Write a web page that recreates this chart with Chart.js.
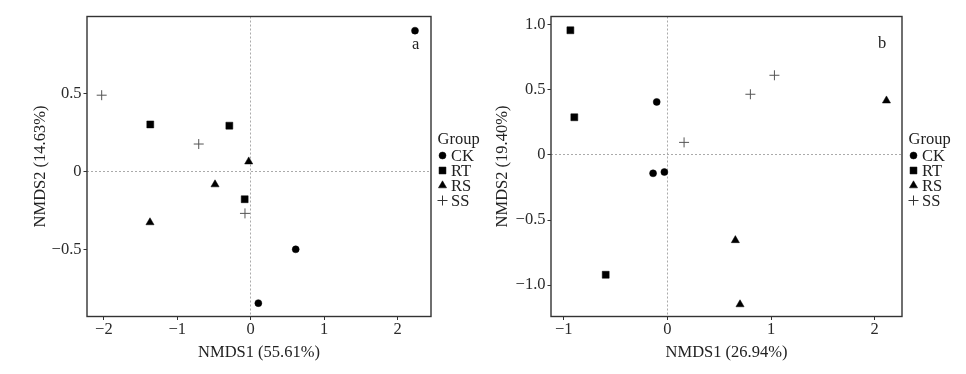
<!DOCTYPE html>
<html>
<head>
<meta charset="utf-8">
<script src="https://cdn.jsdelivr.net/npm/chart.js@4/dist/chart.umd.min.js"></script>
<style>
  html, body { margin: 0; padding: 0; background: #fff; }
  .wrap { position: relative; width: 966px; height: 374px; }
  .panel { position: absolute; top: 0; width: 483px; height: 374px; }
  #panelA { left: 0; }
  #panelB { left: 483px; }
</style>
</head>
<body>
<div class="wrap">
  <div class="panel" id="panelA"><canvas id="chartA" width="483" height="374"></canvas></div>
  <div class="panel" id="panelB"><canvas id="chartB" width="483" height="374"></canvas></div>
</div>
<script>
const groups = ['CK', 'RT', 'RS', 'SS']
const legendTitle = 'Group'

// panel a
const ckA_x = [2.238, 0.613, 0.104]
const ckA_y = [0.906, -0.500, -0.846]
const rtA_x = [-1.368, -0.291, -0.082]
const rtA_y = [0.303, 0.295, -0.178]
const rsA_x = [-0.027, -0.486, -1.372]
const rsA_y = [0.064, -0.083, -0.327]
const ssA_x = [-2.030, -0.708, -0.078]
const ssA_y = [0.491, 0.177, -0.269]
const xTicksA = [-2, -1, 0, 1, 2]
const yTicksA = [-0.5, 0, 0.5]
const xTitleA = 'NMDS1 (55.61%)'
const yTitleA = 'NMDS2 (14.63%)'

// panel b
const ckB_x = [-0.103, -0.138, -0.029]
const ckB_y = [0.408, -0.141, -0.131]
const rtB_x = [-0.936, -0.898, -0.595]
const rtB_y = [0.959, 0.290, -0.921]
const rsB_x = [2.114, 0.656, 0.701]
const rsB_y = [0.418, -0.656, -1.149]
const ssB_x = [1.033, 0.801, 0.161]
const ssB_y = [0.613, 0.467, 0.097]
const xTicksB = [-1, 0, 1, 2]
const yTicksB = [-1.0, -0.5, 0, 0.5, 1.0]
const xTitleB = 'NMDS1 (26.94%)'
const yTitleB = 'NMDS2 (19.40%)'

const fontFamily = "'Liberation Serif', 'Times New Roman', serif"
const fontSize = 16.5

const styles = [
  { pointStyle: 'circle', pointRadius: 3.5, backgroundColor: '#000', borderColor: '#000', borderWidth: 0.5 },
  { pointStyle: 'rect', pointRadius: 4.9, backgroundColor: '#000', borderColor: '#000', borderWidth: 0.5 },
  { pointStyle: 'triangle', pointRadius: 4.7, backgroundColor: '#000', borderColor: '#000', borderWidth: 0.5 },
  { pointStyle: 'cross', pointRadius: 5, backgroundColor: '#555', borderColor: '#555', borderWidth: 1 },
]

function toPoints(xs, ys) {
  return xs.map((x, i) => ({ x: x, y: ys[i] }))
}

function makeDatasets(series) {
  return series.map((s, i) => ({
    label: groups[i],
    data: toPoints(s[0], s[1]),
    ...styles[i],
    pointHoverRadius: styles[i].pointRadius,
  }))
}

function fmtTick(v, decimals) {
  let s = v === 0 ? '0' : v.toFixed(decimals)
  return s.replace('-', '\u2212')
}

// box around the plot
const frame = {
  id: 'frame',
  beforeDatasetsDraw(chart) {
    const { ctx, chartArea } = chart
    ctx.save()
    ctx.strokeStyle = '#333'
    ctx.lineWidth = 1.4
    ctx.strokeRect(chartArea.left, chartArea.top, chartArea.right - chartArea.left, chartArea.bottom - chartArea.top)
    ctx.restore()
  }
}

// "Group" legend to the right of the plot
const groupLegend = {
  id: 'groupLegend',
  afterDraw(chart) {
    const { ctx, chartArea } = chart
    const x0 = chartArea.right
    ctx.save()
    ctx.font = fontSize + 'px ' + fontFamily
    ctx.textAlign = 'left'
    ctx.textBaseline = 'alphabetic'
    ctx.fillStyle = '#222'
    ctx.fillText(legendTitle, x0 + 6.5, chartArea.top + 127)
    chart.data.datasets.forEach((ds, i) => {
      const cy = chartArea.top + 139 + i * 15
      ctx.fillStyle = ds.pointStyle === 'cross' ? '#333' : ds.backgroundColor
      ctx.strokeStyle = ds.pointStyle === 'cross' ? '#333' : ds.borderColor
      ctx.lineWidth = ds.borderWidth
      Chart.helpers.drawPoint(ctx, {
        pointStyle: ds.pointStyle,
        radius: ds.pointRadius,
        rotation: 0,
        borderWidth: ds.borderWidth,
      }, x0 + 11.5, cy)
      ctx.fillStyle = '#222'
      ctx.fillText(ds.label, x0 + 20, cy + 5.5)
    })
    ctx.restore()
  }
}

// panel letter inside the plot
const panelTag = {
  id: 'panelTag',
  afterDraw(chart, args, opts) {
    const { ctx, scales } = chart
    ctx.save()
    ctx.font = fontSize + 'px ' + fontFamily
    ctx.textAlign = 'center'
    ctx.textBaseline = 'alphabetic'
    ctx.fillStyle = '#222'
    ctx.fillText(opts.text, scales.x.getPixelForValue(opts.x), scales.y.getPixelForValue(opts.y))
    ctx.restore()
  }
}

function makeChart(id, cfg) {
  return new Chart(document.getElementById(id), {
    type: 'scatter',
    data: { datasets: makeDatasets(cfg.series) },
    options: {
      responsive: false,
      animation: false,
      events: [],
      layout: { padding: { left: 0, top: 16.5, right: cfg.padRight, bottom: 0 } },
      plugins: {
        legend: { display: false },
        tooltip: { enabled: false },
        panelTag: cfg.tag,
      },
      scales: {
        x: {
          type: 'linear',
          min: cfg.xMin,
          max: cfg.xMax,
          afterBuildTicks: s => { s.ticks = cfg.xTicks.map(v => ({ value: v })) },
          afterFit: s => { s.height = 57.5 },
          ticks: {
            padding: 0,
            color: '#2a2a2a',
            font: { family: fontFamily, size: fontSize },
            callback: v => fmtTick(v, 0),
          },
          grid: {
            color: c => (c.tick && c.tick.value === 0 ? '#aaa' : 'rgba(0,0,0,0)'),
            tickColor: '#333',
            tickLength: 3.5,
            lineWidth: 1,
          },
          border: { display: false, dash: [2, 2] },
          title: {
            display: true,
            text: cfg.xTitle,
            color: '#222',
            font: { family: fontFamily, size: fontSize },
            padding: { top: 0, bottom: 11.4 },
          },
        },
        y: {
          type: 'linear',
          min: cfg.yMin,
          max: cfg.yMax,
          afterBuildTicks: s => { s.ticks = cfg.yTicks.map(v => ({ value: v })) },
          afterFit: s => { s.width = cfg.yWidth },
          ticks: {
            padding: 2,
            color: '#2a2a2a',
            font: { family: fontFamily, size: fontSize },
            callback: v => fmtTick(v, cfg.yDec),
          },
          grid: {
            color: c => (c.tick && c.tick.value === 0 ? '#aaa' : 'rgba(0,0,0,0)'),
            tickColor: '#333',
            tickLength: 3.5,
            lineWidth: 1,
          },
          border: { display: false, dash: [2, 2] },
          title: {
            display: true,
            text: cfg.yTitle,
            color: '#222',
            font: { family: fontFamily, size: fontSize },
            padding: { top: cfg.yTitlePad, bottom: 0 },
          },
        },
      },
    },
    plugins: [frame, groupLegend, panelTag],
  })
}

makeChart('chartA', {
  series: [[ckA_x, ckA_y], [rtA_x, rtA_y], [rsA_x, rsA_y], [ssA_x, ssA_y]],
  xMin: -2.230, xMax: 2.456, yMin: -0.932, yMax: 0.997,
  xTicks: xTicksA, yTicks: yTicksA, yDec: 1,
  xTitle: xTitleA, yTitle: yTitleA,
  yWidth: 87, padRight: 52, yTitlePad: 31.2,
  tag: { text: 'a', x: 2.248, y: 0.788 },
})

makeChart('chartB', {
  series: [[ckB_x, ckB_y], [rtB_x, rtB_y], [rsB_x, rsB_y], [ssB_x, ssB_y]],
  xMin: -1.123, xMax: 2.264, yMin: -1.242, yMax: 1.065,
  xTicks: xTicksB, yTicks: yTicksB, yDec: 1,
  xTitle: xTitleB, yTitle: yTitleB,
  yWidth: 68, padRight: 64, yTitlePad: 9.5,
  tag: { text: 'b', x: 2.072, y: 0.821 },
})
</script>
</body>
</html>
